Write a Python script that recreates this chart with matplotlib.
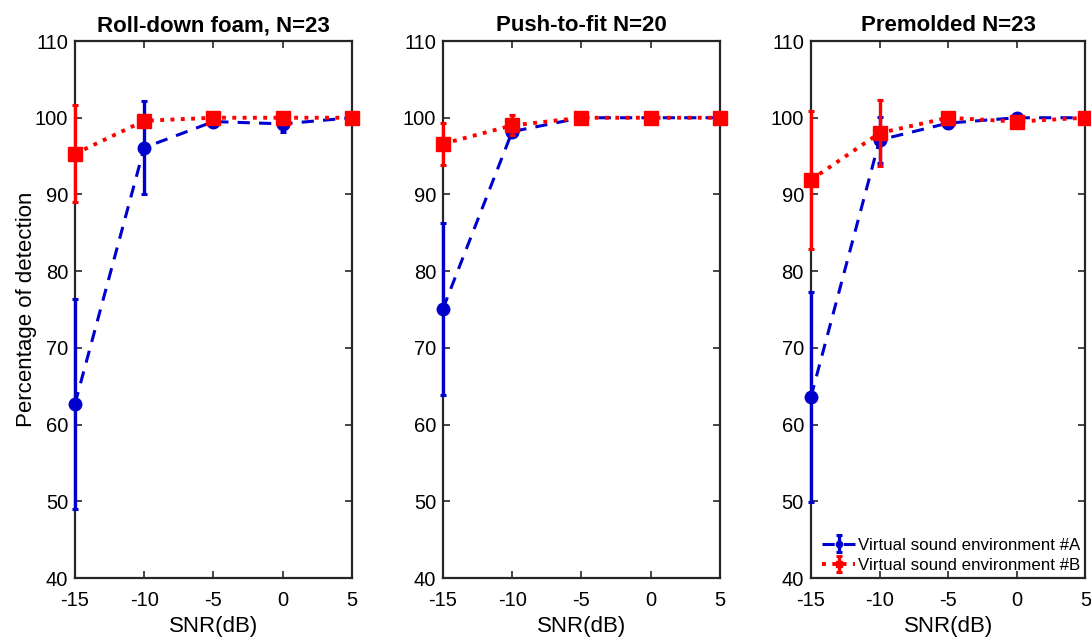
import matplotlib
matplotlib.use("Agg")
import matplotlib.pyplot as plt

plt.rcParams['font.family'] = ['Liberation Sans', 'DejaVu Sans']
plt.rcParams['axes.unicode_minus'] = False

snr = [-15, -10, -5, 0, 5]
titles = ["Roll-down foam, N=23", "Push-to-fit N=20", "Premolded N=23"]

# Virtual sound environment #A (blue)
a_mean = [
    [62.7, 96.1, 99.5, 99.2, 100.0],
    [75.1, 98.2, 100.0, 100.0, 100.0],
    [63.6, 97.1, 99.3, 100.0, 100.0],
]
a_err = [
    [13.7, 6.1, 0.6, 1.0, 0.0],
    [11.2, 0.5, 0.0, 0.0, 0.0],
    [13.7, 3.0, 0.6, 0.3, 0.0],
]
# Virtual sound environment #B (red)
b_mean = [
    [95.3, 99.6, 100.0, 100.0, 100.0],
    [96.6, 99.0, 100.0, 100.0, 100.0],
    [91.9, 98.0, 100.0, 99.5, 100.0],
]
b_err = [
    [6.3, 0.4, 0.0, 0.0, 0.0],
    [2.7, 1.3, 0.0, 0.0, 0.0],
    [9.0, 4.3, 0.0, 0.5, 0.0],
]

blue = '#0000CD'
red = '#FF0000'

fig = plt.figure(figsize=(10.91, 6.38), dpi=100)
lefts = [0.0687, 0.406, 0.7433]
widths = [0.2539, 0.2539, 0.2515]
for i in range(3):
    ax = fig.add_axes([lefts[i], 0.094, widths[i], 0.8417])
    ea = ax.errorbar(snr, a_mean[i], yerr=a_err[i], color=blue, ls='--', lw=2.2,
                     marker='o', ms=9, capsize=2.5, elinewidth=2.4, capthick=2.2,
                     dashes=(4, 3), label='Virtual sound environment #A', zorder=2)
    eb = ax.errorbar(snr, b_mean[i], yerr=b_err[i], color=red, ls=':', lw=2.8,
                     marker='s', ms=10, capsize=2.5, elinewidth=2.4, capthick=2.2,
                     label='Virtual sound environment #B', zorder=3)
    for cont in (ea, eb):
        for art in cont.lines[0:1] + tuple(cont.lines[1]) + tuple(cont.lines[2]):
            art.set_clip_on(False)
    ax.set_xlim(-15, 5)
    ax.set_ylim(40, 110)
    ax.set_xticks([-15, -10, -5, 0, 5])
    ax.set_yticks(range(40, 111, 10))
    ax.tick_params(direction='in', top=True, right=True, labelsize=14.5,
                   length=5, width=1.2, colors='#262626', labelcolor='black')
    ax.tick_params(axis='x', pad=9)
    ax.tick_params(axis='y', pad=5)
    for s in ax.spines.values():
        s.set_linewidth(1.6)
        s.set_color('#262626')
        s.set_zorder(1)
    ax.set_title(titles[i], fontsize=16, fontweight='bold', pad=7)
    ax.set_xlabel('SNR(dB)', fontsize=16, labelpad=5)
    if i == 0:
        ax.set_ylabel('Percentage of detection', fontsize=16, labelpad=-2)
    if i == 2:
        leg = ax.legend(loc='lower right', fontsize=12.2, frameon=False,
                        handlelength=2.0, borderpad=0.2,
                        labelspacing=0.3, handletextpad=0.15, borderaxespad=0.1,
                        markerscale=0.5)

fig.savefig('out.png', dpi=100)
